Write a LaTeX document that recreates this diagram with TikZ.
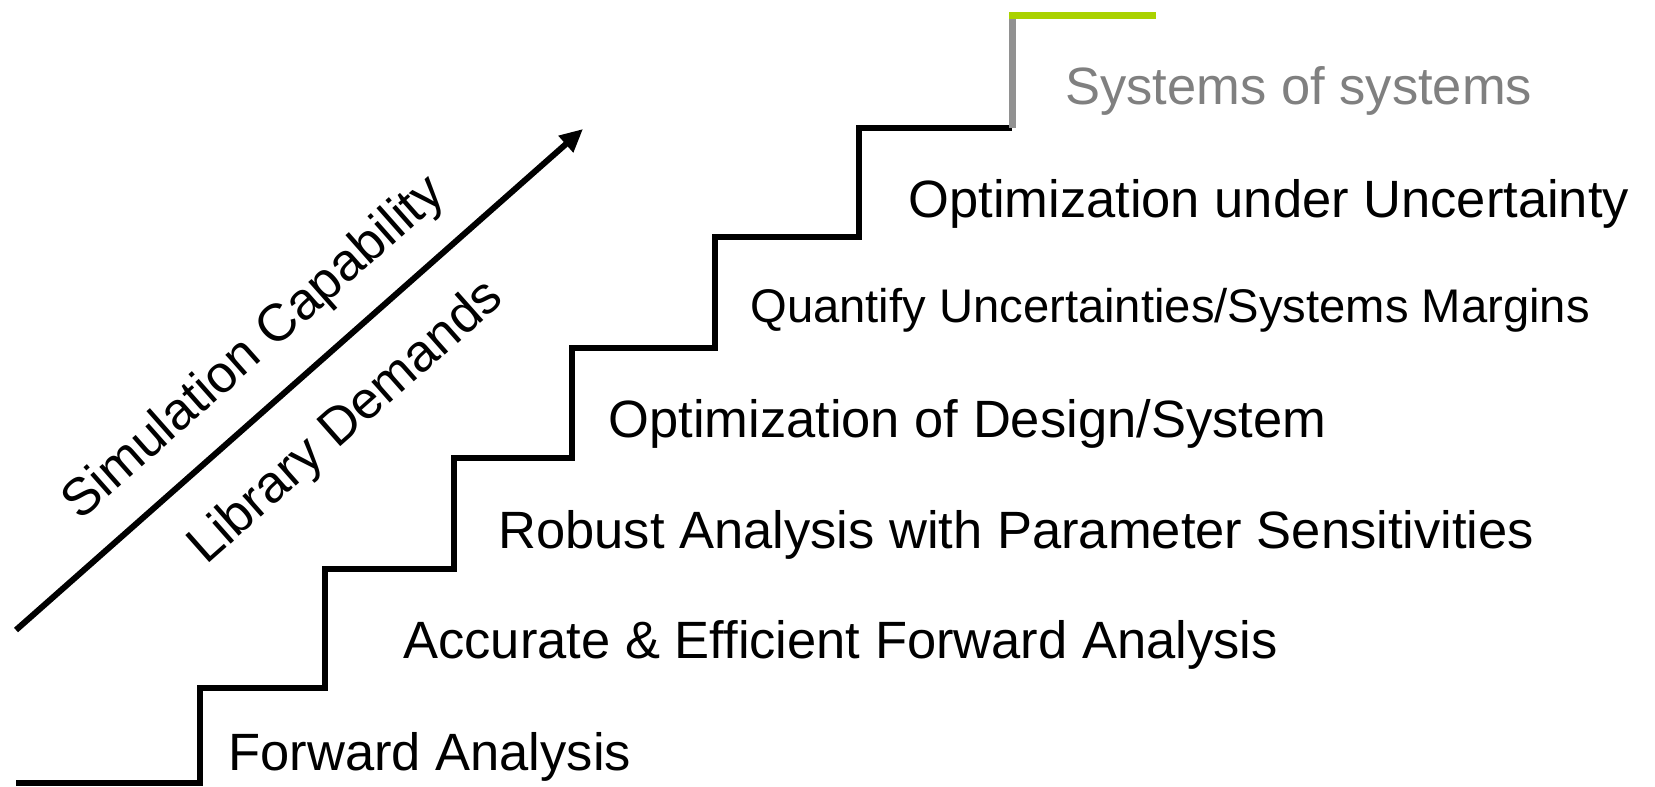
\documentclass[tikz,border=0pt]{standalone}
\usepackage{fontspec}
\setmainfont{Liberation Sans}
\usepackage{tikz}
\usetikzlibrary{arrows.meta}

\definecolor{stepgreen}{RGB}{170,210,0}
\definecolor{stepgray}{RGB}{145,145,145}
\definecolor{labelgray}{RGB}{128,128,128}

\tikzset{
  steplabel/.style={anchor=base west,inner sep=0pt,font=\fontsize{26.25}{31}\selectfont},
  smalllabel/.style={steplabel,font=\fontsize{23.6}{28}\selectfont},
  slantlabel/.style={steplabel,rotate=41.5},
  stairline/.style={line width=3pt,line join=miter},
}

\begin{document}
\begin{tikzpicture}[x=0.5pt,y=-0.5pt]
  \useasboundingbox (0,0) rectangle (1655,787);

  %stairs
  \draw[stairline] (16,783) -- (200,783) -- (200,688) -- (325,688) -- (325,569) -- (454,569)
    -- (454,458) -- (572,458) -- (572,348) -- (715,348) -- (715,237) -- (859,237)
    -- (859,128) -- (1012,128);
  %top step
  \draw[line width=3.5pt,stepgray] (1012,128) -- (1012,15);
  \draw[line width=3.5pt,stepgreen] (1009,15) -- (1156,15);

  %step labels
  \node[steplabel] (fwd) at (228,770) {Forward Analysis};
  \node[steplabel] (acc) at (403,658) {Accurate \& Efficient Forward Analysis};
  \node[steplabel] (rob) at (498,548) {Robust Analysis with Parameter Sensitivities};
  \node[steplabel] (optdes) at (608,437) {Optimization of Design/System};
  \node[smalllabel] (quant) at (750,322) {Quantify Uncertainties/Systems Margins};
  \node[steplabel] (optunc) at (908,217) {Optimization under Uncertainty};
  \node[steplabel,text=labelgray] (sos) at (1065,104) {Systems of systems};

  %capability arrow
  \coordinate (captail) at (16,630);
  \coordinate (caphead) at (583,129);
  \draw[line width=3pt,-{Triangle[length=11.5pt,width=10.5pt]}] (captail) -- (caphead);
  \node[slantlabel] (simcap) at (80,522) {Simulation Capability};
  \node[slantlabel] (libdem) at (206,566) {Library Demands};
\end{tikzpicture}
\end{document}
